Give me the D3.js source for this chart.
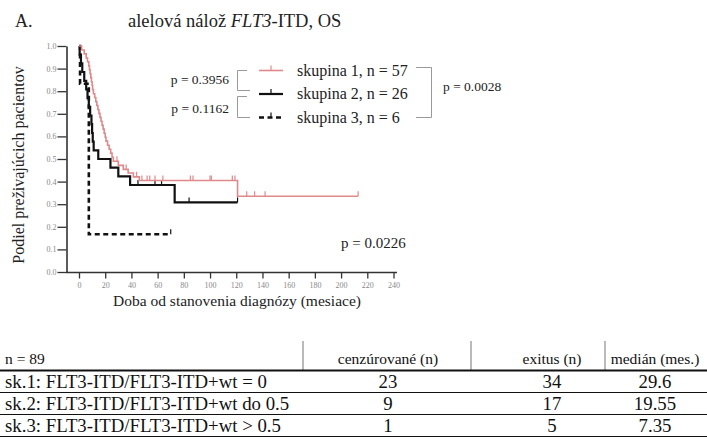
<!DOCTYPE html>
<html>
<head>
<meta charset="utf-8">
<script src="https://cdn.jsdelivr.net/npm/d3@7"></script>
<style>
  body { margin: 0; background: #fff; }
</style>
</head>
<body>
<script>
// ---- data ----
var xTicks = [0, 20, 40, 60, 80, 100, 120, 140, 160, 180, 200, 220, 240];
var yTicks = [0, 0.1, 0.2, 0.3, 0.4, 0.5, 0.6, 0.7, 0.8, 0.9, 1.0];

// skupina 1 (n = 57)
var g1Times = [0, 2, 4, 5.5, 6.5, 7.5, 8, 8.5, 9, 9.5, 10, 10.4, 11, 12, 12.8, 13.6, 14.4, 15.2, 16,
               16.8, 17.6, 18.4, 19.2, 20, 20.6, 21.8, 23, 24.2, 25.2, 26.2, 30, 33.8, 37.5, 41.5, 46, 121];
var g1Surv  = [1, 0.982, 0.965, 0.947, 0.930, 0.912, 0.895, 0.877, 0.860, 0.842, 0.825, 0.807, 0.789,
               0.772, 0.754, 0.737, 0.719, 0.702, 0.684, 0.667, 0.649, 0.632, 0.614, 0.596, 0.579, 0.561,
               0.543, 0.526, 0.508, 0.490, 0.472, 0.454, 0.438, 0.421, 0.405, 0.335];
var g1End = 213;
var g1Cens = [29, 36, 44, 48, 52, 54, 58, 64, 85, 87, 100, 101, 117, 119, 128, 134, 142, 213];

// skupina 2 (n = 26)
var g2Times = [0, 0.5, 1.5, 2.5, 4, 5.5, 6.5, 7.5, 8.5, 9.5, 10, 10.5, 11.2, 14.7, 24, 30, 39, 73];
var g2Surv  = [1, 0.962, 0.923, 0.885, 0.846, 0.808, 0.769, 0.731, 0.692, 0.654, 0.615, 0.577, 0.538,
               0.5, 0.462, 0.423, 0.385, 0.308];
var g2End = 121;
var g2Cens = [45, 58, 63, 84, 121];

// skupina 3 (n = 6)
var g3Times = [0, 0.8, 7.5];
var g3Surv  = [1, 0.833, 0.167];
var g3End = 70;
var g3Cens = [70];

var legendLabels = ['skupina 1, n = 57', 'skupina 2, n = 26', 'skupina 3, n = 6'];

var tableHeader = ['n = 89', 'cenzúrované (n)', 'exitus (n)', 'medián (mes.)'];
var tableRows = [
  ['sk.1: FLT3-ITD/FLT3-ITD+wt = 0', '23', '34', '29.6'],
  ['sk.2: FLT3-ITD/FLT3-ITD+wt do 0.5', '9', '17', '19.55'],
  ['sk.3: FLT3-ITD/FLT3-ITD+wt > 0.5', '1', '5', '7.35']
];

// ---- setup ----
var W = 707, H = 439;
var serif = "'Liberation Serif', 'Times New Roman', serif";
var pink = '#e0898b';
var svg = d3.select('body').append('svg').attr('width', W).attr('height', H)
  .attr('font-family', serif);

var x = d3.scaleLinear().domain([0, 240]).range([79, 393.5]);
var y = d3.scaleLinear().domain([0, 1]).range([272, 46]);

var groups = [
  {times: g1Times, surv: g1Surv, end: g1End, cens: g1Cens, color: pink, width: 1.6, dash: null},
  {times: g2Times, surv: g2Surv, end: g2End, cens: g2Cens, color: '#111', width: 2.2, dash: null},
  {times: g3Times, surv: g3Surv, end: g3End, cens: g3Cens, color: '#111', width: 2.6, dash: '5,3.5'}
];

// title
svg.append('text').attr('x', 15).attr('y', 27).attr('font-size', 18).attr('fill', '#222').text('A.');
var title = svg.append('text').attr('x', 128).attr('y', 27).attr('font-size', 18.5).attr('fill', '#222');
title.append('tspan').text('alelová nálož ');
title.append('tspan').attr('font-style', 'italic').text('FLT3');
title.append('tspan').text('-ITD, OS');

// axes
var yAxis = svg.append('g').attr('transform', 'translate(66.5,0)')
  .call(d3.axisLeft(y).tickValues(yTicks).tickSize(9).tickSizeOuter(0).tickFormat(d3.format('.1f')));
yAxis.attr('font-family', serif);
yAxis.select('.domain').attr('stroke', '#333').attr('stroke-width', 1.6);
yAxis.selectAll('.tick line').attr('stroke', '#333').attr('stroke-width', 1.3);
yAxis.selectAll('.tick text').attr('font-size', 8).attr('fill', '#888').attr('x', -10);

var xAxis = svg.append('g').attr('transform', 'translate(0,272.5)')
  .call(d3.axisBottom(x).tickValues(xTicks).tickSize(6).tickSizeOuter(0));
xAxis.attr('font-family', serif);
xAxis.select('.domain').remove();
xAxis.selectAll('.tick line').attr('stroke', '#333').attr('stroke-width', 1.3);
xAxis.selectAll('.tick text').attr('font-size', 8).attr('fill', '#888').attr('y', 10);
svg.append('line').attr('x1', 66).attr('x2', 397).attr('y1', 272.5).attr('y2', 272.5)
  .attr('stroke', '#333').attr('stroke-width', 1.6);

svg.append('text').attr('transform', 'translate(24,165) rotate(-90)').attr('text-anchor', 'middle')
  .attr('font-size', 16).attr('fill', '#222').text('Podiel preživajúcich pacientov');
svg.append('text').attr('x', 237).attr('y', 306).attr('text-anchor', 'middle')
  .attr('font-size', 15.5).attr('fill', '#222').text('Doba od stanovenia diagnózy (mesiace)');

// curves
var line = d3.line().x(function(d) { return x(d[0]); }).y(function(d) { return y(d[1]); })
  .curve(d3.curveStepAfter);

function survAt(g, t) {
  var s = g.surv[0];
  for (var i = 0; i < g.times.length; i++) if (g.times[i] <= t) s = g.surv[i];
  return s;
}

groups.slice().reverse().forEach(function(g) {
  var pts = g.times.map(function(t, i) { return [t, g.surv[i]]; });
  pts.push([g.end, g.surv[g.surv.length - 1]]);
  svg.append('path').attr('d', line(pts)).attr('fill', 'none')
    .attr('stroke', g.color).attr('stroke-width', g.width)
    .attr('stroke-dasharray', g.dash);
  svg.append('g').selectAll('line').data(g.cens).join('line')
    .attr('x1', function(t) { return x(t); }).attr('x2', function(t) { return x(t); })
    .attr('y1', function(t) { return y(survAt(g, t)); })
    .attr('y2', function(t) { return y(survAt(g, t)) - 5; })
    .attr('stroke', g.color).attr('stroke-width', 1.2);
});

// legend
var legY = [70.5, 94, 117.5];
var leg = svg.append('g');
groups.forEach(function(g, i) {
  leg.append('line').attr('x1', 259).attr('x2', 283).attr('y1', legY[i]).attr('y2', legY[i])
    .attr('stroke', g.color).attr('stroke-width', g.width).attr('stroke-dasharray', g.dash);
  leg.append('line').attr('x1', 271).attr('x2', 271).attr('y1', legY[i]).attr('y2', legY[i] - 5)
    .attr('stroke', g.color).attr('stroke-width', 1.2);
  leg.append('text').attr('x', 297).attr('y', legY[i] + 5).attr('font-size', 16).attr('fill', '#222')
    .text(legendLabels[i]);
});

// comparison brackets
var br = '#999';
function bracketLeft(y1, y2) {
  leg.append('path').attr('d', 'M247,' + y1 + 'H237.5V' + y2 + 'H250')
    .attr('fill', 'none').attr('stroke', br).attr('stroke-width', 1);
}
bracketLeft(70.5, 90.5);
bracketLeft(96.5, 117.5);
leg.append('path').attr('d', 'M416,67.5H431.5V117.5H416').attr('fill', 'none').attr('stroke', br).attr('stroke-width', 1);

var pLabels = [
  {x: 229, y: 84, a: 'end', t: 'p = 0.3956'},
  {x: 229, y: 113, a: 'end', t: 'p = 0.1162'},
  {x: 443, y: 91, a: 'start', t: 'p = 0.0028'},
  {x: 341, y: 248, a: 'start', t: 'p = 0.0226'}
];
svg.append('g').selectAll('text').data(pLabels).join('text')
  .attr('x', function(d) { return d.x; }).attr('y', function(d) { return d.y; })
  .attr('text-anchor', function(d) { return d.a; })
  .attr('font-size', function(d, i) { return i == 3 ? 15 : 13.5; }).attr('fill', '#222')
  .text(function(d) { return d.t; });

// table
var colDiv = [303, 471, 605];
var colCenter = [null, 388, 552, 655];
var tbl = svg.append('g');
colDiv.forEach(function(cx) {
  tbl.append('line').attr('x1', cx).attr('x2', cx).attr('y1', 341).attr('y2', 370)
    .attr('stroke', '#777').attr('stroke-width', 1);
});
tableHeader.forEach(function(h, i) {
  tbl.append('text').attr('x', i == 0 ? 5 : colCenter[i]).attr('y', 364)
    .attr('text-anchor', i == 0 ? 'start' : 'middle').attr('font-size', 15.5).attr('fill', '#111').text(h);
});
var lineYs = [370.5, 392.5, 414.5, 436.5];
lineYs.forEach(function(ly, i) {
  tbl.append('line').attr('x1', 0).attr('x2', W).attr('y1', ly).attr('y2', ly)
    .attr('stroke', '#111').attr('stroke-width', i == 0 ? 2 : 1.2);
});
tableRows.forEach(function(r, ri) {
  r.forEach(function(c, i) {
    tbl.append('text').attr('x', i == 0 ? 5 : colCenter[i]).attr('y', 388 + ri * 22)
      .attr('text-anchor', i == 0 ? 'start' : 'middle').attr('font-size', 18.8).attr('fill', '#111').text(c);
  });
});
</script>
</body>
</html>
